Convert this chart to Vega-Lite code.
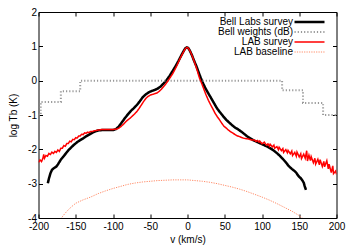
{
  "$schema": "https://vega.github.io/schema/vega-lite/v6.json",
  "width": 298,
  "height": 206,
  "autosize": "none",
  "padding": {"left": 38.5, "top": 12, "right": 17.5, "bottom": 30},
  "config": {
    "font": "Liberation Sans",
    "view": {"stroke": "#000000", "strokeWidth": 1},
    "axis": {
      "grid": false, "domain": false, "tickColor": "#000000", "tickSize": -4, "tickWidth": 1,
      "labelFontSize": 10, "labelColor": "#000000", "labelFont": "Liberation Sans",
      "titleFontSize": 10, "titleFontWeight": "normal", "titleColor": "#000000", "titleFont": "Liberation Sans"
    },
    "legend": {
      "orient": "none", "legendX": 266, "legendY": 5, "padding": 0, "rowPadding": 0,
      "labelFontSize": 8, "labelColor": "#000000", "labelFont": "Liberation Sans",
      "labelAlign": "right", "labelOffset": -21.5,
      "symbolType": "M-6,0H6", "symbolSize": 25
    }
  },
  "datasets": {
    "bell": [
      {"v": -187.5, "t": -2.99}, {"v": -186, "t": -2.85}, {"v": -184, "t": -2.70}, {"v": -182, "t": -2.60},
      {"v": -180, "t": -2.56}, {"v": -178, "t": -2.53}, {"v": -176, "t": -2.50}, {"v": -174, "t": -2.44},
      {"v": -172, "t": -2.37}, {"v": -170, "t": -2.30}, {"v": -167, "t": -2.22}, {"v": -164, "t": -2.14},
      {"v": -160, "t": -2.03}, {"v": -156, "t": -1.94}, {"v": -152, "t": -1.86}, {"v": -148, "t": -1.79},
      {"v": -144, "t": -1.73}, {"v": -140, "t": -1.68}, {"v": -136, "t": -1.62}, {"v": -132, "t": -1.57},
      {"v": -128, "t": -1.52}, {"v": -124, "t": -1.48}, {"v": -120, "t": -1.45}, {"v": -115, "t": -1.44},
      {"v": -110, "t": -1.44}, {"v": -105, "t": -1.44}, {"v": -100, "t": -1.44}, {"v": -96, "t": -1.41},
      {"v": -92, "t": -1.33}, {"v": -88, "t": -1.21}, {"v": -84, "t": -1.09}, {"v": -80, "t": -0.98},
      {"v": -76, "t": -0.88}, {"v": -72, "t": -0.80}, {"v": -68, "t": -0.71}, {"v": -64, "t": -0.60},
      {"v": -60, "t": -0.48}, {"v": -56, "t": -0.40}, {"v": -52, "t": -0.34}, {"v": -48, "t": -0.30},
      {"v": -44, "t": -0.27}, {"v": -40, "t": -0.23}, {"v": -36, "t": -0.17}, {"v": -32, "t": -0.08},
      {"v": -28, "t": 0.02}, {"v": -24, "t": 0.14}, {"v": -20, "t": 0.28}, {"v": -16, "t": 0.42},
      {"v": -12, "t": 0.58}, {"v": -8, "t": 0.75}, {"v": -5, "t": 0.87}, {"v": -3, "t": 0.94},
      {"v": -1, "t": 0.97}, {"v": 1, "t": 0.95}, {"v": 3, "t": 0.88}, {"v": 6, "t": 0.74},
      {"v": 9, "t": 0.57}, {"v": 12, "t": 0.42}, {"v": 15, "t": 0.24}, {"v": 18, "t": 0.07},
      {"v": 21, "t": -0.08}, {"v": 24, "t": -0.22}, {"v": 28, "t": -0.37}, {"v": 32, "t": -0.52},
      {"v": 36, "t": -0.67}, {"v": 40, "t": -0.82}, {"v": 44, "t": -0.93}, {"v": 48, "t": -1.04},
      {"v": 52, "t": -1.14}, {"v": 56, "t": -1.22}, {"v": 60, "t": -1.30}, {"v": 64, "t": -1.37},
      {"v": 68, "t": -1.42}, {"v": 72, "t": -1.48}, {"v": 76, "t": -1.55}, {"v": 80, "t": -1.62},
      {"v": 84, "t": -1.68}, {"v": 88, "t": -1.73}, {"v": 92, "t": -1.77}, {"v": 96, "t": -1.81},
      {"v": 100, "t": -1.85}, {"v": 104, "t": -1.89}, {"v": 108, "t": -1.93}, {"v": 112, "t": -1.98},
      {"v": 116, "t": -2.04}, {"v": 120, "t": -2.11}, {"v": 124, "t": -2.19}, {"v": 128, "t": -2.28},
      {"v": 132, "t": -2.38}, {"v": 136, "t": -2.49}, {"v": 140, "t": -2.57}, {"v": 143, "t": -2.62},
      {"v": 146, "t": -2.68}, {"v": 148, "t": -2.75}, {"v": 150, "t": -2.80}, {"v": 152, "t": -2.84},
      {"v": 154, "t": -2.90}, {"v": 156, "t": -2.97}, {"v": 157, "t": -3.05}, {"v": 158, "t": -3.12},
      {"v": 159, "t": -3.18}
    ],
    "weights": [
      {"v": -200, "t": -1.0}, {"v": -197, "t": -0.62}, {"v": -170, "t": -0.31}, {"v": -144, "t": 0},
      {"v": 127, "t": -0.28}, {"v": 155, "t": -0.65}, {"v": 182, "t": -1.0}, {"v": 200, "t": -1.0}
    ],
    "lab": [
      {"v": -200, "t": -2.38}, {"v": -198, "t": -2.31}, {"v": -196, "t": -2.36}, {"v": -194, "t": -2.25},
      {"v": -193, "t": -2.15}, {"v": -192, "t": -2.26}, {"v": -190, "t": -2.18}, {"v": -188, "t": -2.20},
      {"v": -186, "t": -2.12}, {"v": -184, "t": -2.15}, {"v": -182, "t": -2.08}, {"v": -180, "t": -2.12},
      {"v": -178, "t": -2.06}, {"v": -176, "t": -2.09}, {"v": -174, "t": -2.02}, {"v": -172, "t": -2.06},
      {"v": -170, "t": -1.97}, {"v": -168, "t": -1.97}, {"v": -166, "t": -1.89}, {"v": -164, "t": -1.91},
      {"v": -162, "t": -1.83}, {"v": -160, "t": -1.83}, {"v": -158, "t": -1.76}, {"v": -156, "t": -1.78},
      {"v": -154, "t": -1.71}, {"v": -152, "t": -1.72}, {"v": -150, "t": -1.66}, {"v": -148, "t": -1.67},
      {"v": -146, "t": -1.61}, {"v": -144, "t": -1.61}, {"v": -142, "t": -1.56}, {"v": -140, "t": -1.57},
      {"v": -138, "t": -1.52}, {"v": -136, "t": -1.53}, {"v": -134, "t": -1.50}, {"v": -132, "t": -1.51},
      {"v": -130, "t": -1.48}, {"v": -128, "t": -1.48}, {"v": -125, "t": -1.46}, {"v": -120, "t": -1.44},
      {"v": -115, "t": -1.42}, {"v": -110, "t": -1.42}, {"v": -105, "t": -1.42}, {"v": -100, "t": -1.42},
      {"v": -95, "t": -1.41}, {"v": -92, "t": -1.38}, {"v": -89, "t": -1.33}, {"v": -86, "t": -1.27},
      {"v": -83, "t": -1.20}, {"v": -80, "t": -1.14}, {"v": -77, "t": -1.09}, {"v": -74, "t": -1.03},
      {"v": -71, "t": -0.97}, {"v": -68, "t": -0.90}, {"v": -65, "t": -0.81}, {"v": -62, "t": -0.71},
      {"v": -59, "t": -0.61}, {"v": -56, "t": -0.52}, {"v": -53, "t": -0.46}, {"v": -50, "t": -0.42},
      {"v": -47, "t": -0.40}, {"v": -44, "t": -0.38}, {"v": -41, "t": -0.36}, {"v": -38, "t": -0.31},
      {"v": -35, "t": -0.25}, {"v": -32, "t": -0.17}, {"v": -29, "t": -0.09}, {"v": -26, "t": 0.00},
      {"v": -23, "t": 0.10}, {"v": -20, "t": 0.20}, {"v": -17, "t": 0.32}, {"v": -14, "t": 0.45},
      {"v": -11, "t": 0.60}, {"v": -8, "t": 0.73}, {"v": -5, "t": 0.85}, {"v": -3, "t": 0.93},
      {"v": -1, "t": 0.97}, {"v": 1, "t": 0.95}, {"v": 3, "t": 0.88}, {"v": 5, "t": 0.79},
      {"v": 7, "t": 0.68}, {"v": 10, "t": 0.50}, {"v": 13, "t": 0.30}, {"v": 16, "t": 0.08},
      {"v": 19, "t": -0.08}, {"v": 22, "t": -0.25}, {"v": 25, "t": -0.42}, {"v": 28, "t": -0.57},
      {"v": 31, "t": -0.70}, {"v": 34, "t": -0.82}, {"v": 37, "t": -0.95}, {"v": 40, "t": -1.05},
      {"v": 43, "t": -1.14}, {"v": 46, "t": -1.24}, {"v": 49, "t": -1.33}, {"v": 52, "t": -1.38},
      {"v": 55, "t": -1.44}, {"v": 58, "t": -1.49}, {"v": 61, "t": -1.53}, {"v": 64, "t": -1.57},
      {"v": 67, "t": -1.61}, {"v": 70, "t": -1.63}, {"v": 73, "t": -1.66}, {"v": 76, "t": -1.68},
      {"v": 79, "t": -1.69}, {"v": 82, "t": -1.70}, {"v": 85, "t": -1.72}, {"v": 88, "t": -1.73},
      {"v": 90, "t": -1.73}, {"v": 92, "t": -1.77}, {"v": 94, "t": -1.74}, {"v": 96, "t": -1.79},
      {"v": 97, "t": -1.76}, {"v": 100, "t": -1.84}, {"v": 102, "t": -1.81}, {"v": 103, "t": -1.79},
      {"v": 106, "t": -1.88}, {"v": 108, "t": -1.84}, {"v": 110, "t": -1.91}, {"v": 111, "t": -1.85},
      {"v": 114, "t": -1.93}, {"v": 116, "t": -1.88}, {"v": 117, "t": -1.97}, {"v": 120, "t": -1.92},
      {"v": 122, "t": -2.01}, {"v": 123, "t": -1.94}, {"v": 126, "t": -2.04}, {"v": 128, "t": -1.98},
      {"v": 129, "t": -2.09}, {"v": 132, "t": -2.01}, {"v": 134, "t": -2.10}, {"v": 135, "t": -2.03},
      {"v": 138, "t": -2.13}, {"v": 140, "t": -2.05}, {"v": 141, "t": -2.18}, {"v": 144, "t": -2.09},
      {"v": 146, "t": -2.20}, {"v": 147, "t": -2.08}, {"v": 150, "t": -2.22}, {"v": 152, "t": -2.13},
      {"v": 153, "t": -2.27}, {"v": 156, "t": -2.14}, {"v": 158, "t": -2.26}, {"v": 160, "t": -2.04},
      {"v": 161, "t": -2.34}, {"v": 163, "t": -2.17}, {"v": 165, "t": -2.33}, {"v": 166, "t": -2.21},
      {"v": 169, "t": -2.39}, {"v": 171, "t": -2.26}, {"v": 172, "t": -2.43}, {"v": 175, "t": -2.29},
      {"v": 177, "t": -2.45}, {"v": 178, "t": -2.30}, {"v": 181, "t": -2.50}, {"v": 183, "t": -2.35},
      {"v": 184, "t": -2.51}, {"v": 187, "t": -2.33}, {"v": 189, "t": -2.57}, {"v": 190, "t": -2.43},
      {"v": 193, "t": -2.68}, {"v": 195, "t": -2.48}, {"v": 196, "t": -2.71}, {"v": 199, "t": -2.63},
      {"v": 200, "t": -2.73}
    ],
    "baseline": [
      {"v": -170, "t": -4.02}, {"v": -165, "t": -3.88}, {"v": -160, "t": -3.76}, {"v": -155, "t": -3.66},
      {"v": -150, "t": -3.57}, {"v": -140, "t": -3.47}, {"v": -130, "t": -3.39}, {"v": -120, "t": -3.29},
      {"v": -110, "t": -3.21}, {"v": -100, "t": -3.14}, {"v": -90, "t": -3.08}, {"v": -80, "t": -3.02},
      {"v": -70, "t": -2.98}, {"v": -60, "t": -2.95}, {"v": -50, "t": -2.93}, {"v": -40, "t": -2.91},
      {"v": -30, "t": -2.90}, {"v": -20, "t": -2.89}, {"v": -10, "t": -2.89}, {"v": 0, "t": -2.89},
      {"v": 10, "t": -2.91}, {"v": 20, "t": -2.93}, {"v": 30, "t": -2.96}, {"v": 40, "t": -3.00},
      {"v": 50, "t": -3.05}, {"v": 60, "t": -3.10}, {"v": 70, "t": -3.16}, {"v": 80, "t": -3.23},
      {"v": 90, "t": -3.31}, {"v": 100, "t": -3.39}, {"v": 110, "t": -3.48}, {"v": 120, "t": -3.58},
      {"v": 130, "t": -3.69}, {"v": 140, "t": -3.80}, {"v": 150, "t": -3.93}, {"v": 155, "t": -4.02}
    ]
  },
  "layer": [
    {
      "encoding": {
        "x": {"field": "v", "type": "quantitative", "scale": {"domain": [-200, 200], "nice": false, "zero": false},
              "axis": {"title": "v (km/s)", "values": [-200, -150, -100, -50, 0, 50, 100, 150, 200], "labelPadding": 7.5, "titlePadding": 3, "labelExpr": "'' + datum.value", "labelFlush": false}},
        "y": {"field": "t", "type": "quantitative", "scale": {"domain": [-4, 2], "nice": false, "zero": false},
              "axis": {"title": "log Tb (K)", "values": [-4, -3, -2, -1, 0, 1, 2], "labelPadding": 6, "titlePadding": 9, "labelExpr": "'' + datum.value", "labelFlush": false}}
      },
      "layer": [
        {
          "data": {"name": "bell"},
          "mark": {"type": "line", "clip": true},
          "encoding": {
            "color": {"datum": "Bell Labs survey", "type": "nominal",
              "scale": {"domain": ["Bell Labs survey", "Bell weights (dB)", "LAB survey", "LAB baseline"], "range": ["#000000", "#999999", "#ff0000", "#ff8a66"]},
              "legend": {"title": null, "encode": {"labels": {"update": {"fontSize": {"value": 10}}}}}},
            "strokeDash": {"datum": "Bell Labs survey", "type": "nominal",
              "scale": {"domain": ["Bell Labs survey", "Bell weights (dB)", "LAB survey", "LAB baseline"], "range": [[1, 0], [1.2, 2], [1, 0], [1.2, 1.2]]},
              "legend": {"title": null}},
            "strokeWidth": {"datum": "Bell Labs survey", "type": "nominal",
              "scale": {"domain": ["Bell Labs survey", "Bell weights (dB)", "LAB survey", "LAB baseline"], "range": [2.5, 1, 1, 1]},
              "legend": {"title": null}}
          }
        },
        {
          "data": {"name": "weights"},
          "mark": {"type": "line", "clip": true, "interpolate": "step-after"},
          "encoding": {
            "color": {"datum": "Bell weights (dB)", "type": "nominal"},
            "strokeDash": {"datum": "Bell weights (dB)", "type": "nominal"},
            "strokeWidth": {"datum": "Bell weights (dB)", "type": "nominal"}
          }
        },
        {
          "data": {"name": "lab"},
          "mark": {"type": "line", "clip": true},
          "encoding": {
            "color": {"datum": "LAB survey", "type": "nominal"},
            "strokeDash": {"datum": "LAB survey", "type": "nominal"},
            "strokeWidth": {"datum": "LAB survey", "type": "nominal"}
          }
        },
        {
          "data": {"name": "baseline"},
          "mark": {"type": "line", "clip": true},
          "encoding": {
            "color": {"datum": "LAB baseline", "type": "nominal"},
            "strokeDash": {"datum": "LAB baseline", "type": "nominal"},
            "strokeWidth": {"datum": "LAB baseline", "type": "nominal"}
          }
        }
      ]
    },
    {
      "data": {"name": "bell"},
      "mark": {"type": "line", "opacity": 0},
      "encoding": {
        "x": {"field": "v", "type": "quantitative", "axis": {"orient": "top", "labels": false, "title": null, "values": [-200, -150, -100, -50, 0, 50, 100, 150, 200]}},
        "y": {"field": "t", "type": "quantitative", "axis": {"orient": "right", "labels": false, "title": null, "values": [-4, -3, -2, -1, 0, 1, 2]}}
      }
    }
  ],
  "resolve": {"axis": {"x": "independent", "y": "independent"}}
}
